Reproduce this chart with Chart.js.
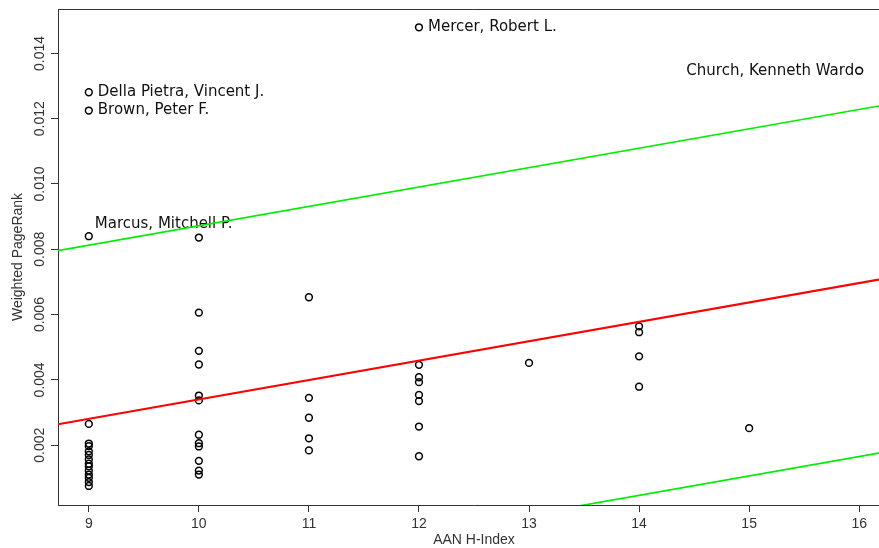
<!DOCTYPE html>
<html>
<head>
<meta charset="utf-8">
<script src="https://cdn.jsdelivr.net/npm/chart.js@4.4.1/dist/chart.umd.min.js"></script>
<style>
html,body{margin:0;padding:0;background:#fff;overflow:hidden;width:879px;height:548px;}
canvas{display:block;}
</style>
</head>
<body>
<canvas id="c" width="890" height="548"></canvas>
<script>
// ---- data ----
const hIndex = [
  9, 9, 9, 9, 9, 9, 9, 9, 9, 9, 9, 9, 9, 9, 9, 9,
  10, 10, 10, 10, 10, 10, 10, 10, 10, 10, 10, 10,
  11, 11, 11, 11, 11,
  12, 12, 12, 12, 12, 12, 12, 12,
  13,
  14, 14, 14, 14,
  15,
  16
];
const pageRank = [
  0.01281, 0.01225, 0.00840, 0.00265, 0.00205, 0.00197, 0.00181, 0.00170, 0.00156, 0.00143, 0.00135, 0.00122, 0.00110, 0.00100, 0.00087, 0.00075,
  0.00836, 0.00606, 0.00489, 0.00447, 0.00352, 0.00337, 0.00232, 0.00206, 0.00196, 0.00152, 0.00122, 0.00110,
  0.00653, 0.00345, 0.00284, 0.00221, 0.00184,
  0.01480, 0.00446, 0.00408, 0.00393, 0.00354, 0.00335, 0.00257, 0.00166,
  0.00452,
  0.00564, 0.00546, 0.00472, 0.00379,
  0.00252,
  0.01347
];
const authorNames = [
  "Della Pietra, Vincent J.", "Brown, Peter F.", "Marcus, Mitchell P.", "", "", "", "", "", "", "", "", "", "", "", "", "",
  "", "", "", "", "", "", "", "", "", "", "", "",
  "", "", "", "", "",
  "Mercer, Robert L.", "", "", "", "", "", "", "",
  "",
  "", "", "", "",
  "",
  "Church, Kenneth Ward"
];
// regression line and bounds (end values read at the frame edges)
const lineX = [8.72, 16.28];
const fitY = [0.00264, 0.00713];
const upperY = [0.00796, 0.01245];
const lowerY = [-0.00268, 0.00182];

const xTickValues = [9, 10, 11, 12, 13, 14, 15, 16];
const xTickLabels = ["9", "10", "11", "12", "13", "14", "15", "16"];
const yTickValues = [0.002, 0.004, 0.006, 0.008, 0.010, 0.012, 0.014];
const yTickLabels = ["0.002", "0.004", "0.006", "0.008", "0.010", "0.012", "0.014"];

const xTitle = "AAN H-Index";
const yTitle = "Weighted PageRank";

// ---- label placement (style, not data) ----
const labelPlacement = {
  "Marcus, Mitchell P.": {align: "left", dx: 6, dy: -12},
  "Church, Kenneth Ward": {align: "right", dx: -5, dy: 0}
};
const defaultPlacement = {align: "left", dx: 9, dy: 0};

const points = hIndex.map((x, i) => ({x: x, y: pageRank[i]}));
const toXY = (ys) => lineX.map((x, i) => ({x: x, y: ys[i]}));

const axisColor = "#333";
const textColor = "#333";

const decor = {
  id: "decor",
  beforeDatasetsDraw(chart) {
    const ctx = chart.ctx, xs = chart.scales.x, ys = chart.scales.y;
    ctx.save();
    ctx.font = "15px 'DejaVu Sans'";
    ctx.fillStyle = "#111";
    ctx.textBaseline = "middle";
    authorNames.forEach((name, i) => {
      if (!name) return;
      const p = labelPlacement[name] || defaultPlacement;
      const px = xs.getPixelForValue(hIndex[i]);
      const py = ys.getPixelForValue(pageRank[i]);
      ctx.textAlign = p.align;
      ctx.fillText(name, px + p.dx, py + p.dy);
    });
    ctx.restore();
  },
  afterDraw(chart) {
    const ctx = chart.ctx, a = chart.chartArea, xs = chart.scales.x, ys = chart.scales.y;
    ctx.save();
    // frame top and right
    ctx.strokeStyle = axisColor;
    ctx.lineWidth = 1;
    ctx.beginPath();
    const t = Math.round(a.top) + 0.5, r = Math.round(a.right) - 0.5;
    ctx.moveTo(a.left, t); ctx.lineTo(r, t); ctx.lineTo(r, a.bottom);
    ctx.stroke();
    // tick labels
    ctx.fillStyle = textColor;
    ctx.font = "14px 'Liberation Sans'";
    ctx.textAlign = "center";
    ctx.textBaseline = "middle";
    xTickValues.forEach((v, i) => {
      ctx.fillText(xTickLabels[i], xs.getPixelForValue(v), a.bottom + 19);
    });
    yTickValues.forEach((v, i) => {
      ctx.save();
      ctx.translate(a.left - 18, ys.getPixelForValue(v));
      ctx.rotate(-Math.PI / 2);
      ctx.fillText(yTickLabels[i], 0, 0);
      ctx.restore();
    });
    // axis titles
    ctx.font = "14px 'Liberation Sans'";
    ctx.fillText(xTitle, (a.left + a.right) / 2, a.bottom + 35);
    ctx.save();
    ctx.translate(a.left - 40, (a.top + a.bottom) / 2);
    ctx.rotate(-Math.PI / 2);
    ctx.fillText(yTitle, 0, 0);
    ctx.restore();
    ctx.restore();
  }
};

new Chart(document.getElementById("c"), {
  type: "scatter",
  data: {
    datasets: [
      {data: toXY(fitY), showLine: true, borderColor: "#ff0000", borderWidth: 2.2, pointRadius: 0, order: 0},
      {data: toXY(upperY), showLine: true, borderColor: "#00ee00", borderWidth: 1.7, pointRadius: 0, order: 0},
      {data: toXY(lowerY), showLine: true, borderColor: "#00ee00", borderWidth: 1.7, pointRadius: 0, order: 0},
      {data: points, showLine: false, pointRadius: 3.4, pointBorderWidth: 1.5, pointBorderColor: "#000",
       pointBackgroundColor: "rgba(0,0,0,0)", borderColor: "#000", order: 1}
    ]
  },
  options: {
    responsive: false,
    animation: false,
    layout: {autoPadding: false, padding: {top: 9, right: 0, left: 0, bottom: 0}},
    plugins: {legend: {display: false}, tooltip: {enabled: false}},
    scales: {
      x: {
        type: "linear", min: 8.72, max: 16.28,
        afterBuildTicks: s => { s.ticks = xTickValues.map(v => ({value: v})); },
        afterFit: s => { s.height = 43; },
        ticks: {display: false},
        grid: {drawOnChartArea: false, drawTicks: true, tickLength: 7, color: axisColor, lineWidth: 1},
        border: {display: true, color: axisColor, width: 1}
      },
      y: {
        type: "linear", min: 0.000167, max: 0.01536,
        afterBuildTicks: s => { s.ticks = yTickValues.map(v => ({value: v})); },
        afterFit: s => { s.width = 58; },
        ticks: {display: false},
        grid: {drawOnChartArea: false, drawTicks: true, tickLength: 7, color: axisColor, lineWidth: 1},
        border: {display: true, color: axisColor, width: 1}
      }
    }
  },
  plugins: [decor]
});
</script>
</body>
</html>
